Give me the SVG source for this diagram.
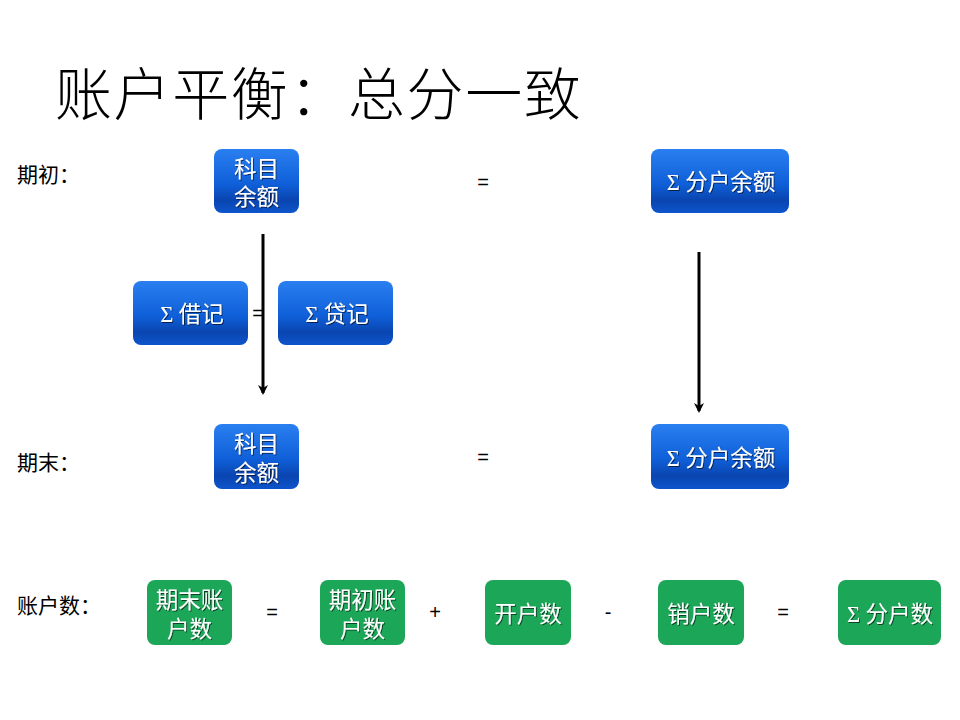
<svg xmlns="http://www.w3.org/2000/svg" width="960" height="720" viewBox="0 0 960 720">
<style>
.t{font-family:"Noto Sans CJK SC","Liberation Sans",sans-serif;}
.lbl{font-family:"Noto Sans CJK SC",sans-serif;font-size:21px;fill:#000;}
.op{font-family:"Liberation Sans",sans-serif;font-size:20px;fill:#000;text-anchor:middle;}
.bt{font-family:"Liberation Serif","Noto Sans CJK SC",serif;font-size:22.5px;fill:#fff;text-anchor:middle;filter:url(#sh);}
.blue{fill:url(#gb);}
.green{fill:#1ca658;}
.conn{stroke:#000;stroke-width:3;fill:none;marker-end:url(#ah);}
</style>
<defs>
<linearGradient id="gb" x1="0" y1="0" x2="0" y2="1">
<stop offset="0" stop-color="#2a7ff0"/>
<stop offset="0.55" stop-color="#0f5fd8"/>
<stop offset="0.8" stop-color="#0a45b0"/>
<stop offset="1" stop-color="#0d55cc"/>
</linearGradient>
<filter id="sh" x="-10%" y="-10%" width="130%" height="130%">
<feDropShadow dx="1" dy="1" stdDeviation="0.6" flood-color="#000" flood-opacity="0.6"/>
</filter>
<marker id="ah" markerWidth="10" markerHeight="12" refX="8" refY="5" orient="auto" markerUnits="userSpaceOnUse">
<path d="M0,0 L10,5 L0,10 L3,5 Z" fill="#000"/>
</marker>
</defs>
<rect width="960" height="720" fill="#fff"/>
<text class="t" x="55" y="115" font-size="57" font-weight="300" letter-spacing="1.6" fill="#000">账户平衡：总分一致</text>
<text class="lbl" x="17" y="182">期初：</text>
<text class="lbl" x="17" y="470">期末：</text>
<text class="lbl" x="17" y="613">账户数：</text>
<g id="connectors">
<line class="conn" x1="263" y1="234" x2="263" y2="393"/>
<line class="conn" x1="699" y1="252" x2="699" y2="411"/>
</g>
<g id="ops">
<text class="op" x="483" y="189">=</text>
<text class="op" x="258" y="320">=</text>
<text class="op" x="483" y="464">=</text>
<text class="op" x="272" y="619">=</text>
<text class="op" x="435" y="619">+</text>
<text class="op" x="608" y="619">-</text>
<text class="op" x="783" y="619">=</text>
</g>
<g id="n1"><rect class="blue" x="214" y="149" width="85" height="64" rx="8"/><text class="bt" x="256.5" y="177">科目</text><text class="bt" x="256.5" y="205">余额</text></g>
<g id="n2"><rect class="blue" x="651" y="149" width="138" height="64" rx="8"/><text class="bt" x="721" y="190">Σ 分户余额</text></g>
<g id="n3"><rect class="blue" x="133" y="281" width="115" height="64" rx="8"/><text class="bt" x="192" y="322">Σ 借记</text></g>
<g id="n4"><rect class="blue" x="278" y="281" width="115" height="64" rx="8"/><text class="bt" x="337" y="322">Σ 贷记</text></g>
<g id="n5"><rect class="blue" x="214" y="424" width="85" height="65" rx="8"/><text class="bt" x="256.5" y="452">科目</text><text class="bt" x="256.5" y="481">余额</text></g>
<g id="n6"><rect class="blue" x="651" y="424" width="138" height="65" rx="8"/><text class="bt" x="721" y="466">Σ 分户余额</text></g>
<g id="n7"><rect class="green" x="147" y="580" width="85" height="65" rx="8"/><text class="bt" x="189.5" y="608">期末账</text><text class="bt" x="189.5" y="637">户数</text></g>
<g id="n8"><rect class="green" x="320" y="580" width="85" height="65" rx="8"/><text class="bt" x="362.5" y="608">期初账</text><text class="bt" x="362.5" y="637">户数</text></g>
<g id="n9"><rect class="green" x="485" y="580" width="86" height="65" rx="8"/><text class="bt" x="528" y="622">开户数</text></g>
<g id="n10"><rect class="green" x="658" y="580" width="86" height="65" rx="8"/><text class="bt" x="701" y="622">销户数</text></g>
<g id="n11"><rect class="green" x="838" y="580" width="103" height="65" rx="8"/><text class="bt" x="890" y="622">Σ 分户数</text></g>
</svg>
